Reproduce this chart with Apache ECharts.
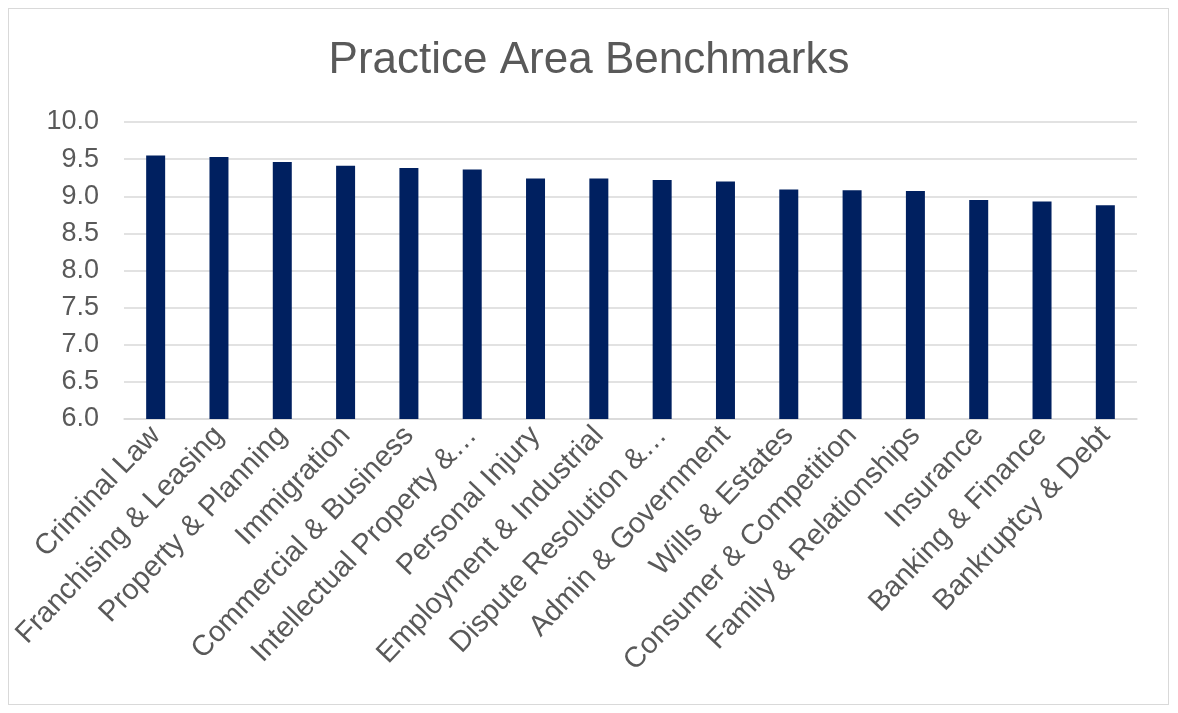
<!DOCTYPE html>
<html>
<head>
<meta charset="utf-8">
<script src="https://cdn.jsdelivr.net/npm/echarts@6/dist/echarts.min.js"></script>
<style>
html,body{margin:0;padding:0;background:#fff;}
#frame{position:absolute;left:8px;top:8px;width:1161px;height:697px;border:1px solid #d9d9d9;box-sizing:border-box;}
#chart{position:absolute;left:0;top:0;width:1178px;height:713px;}
</style>
</head>
<body>
<div id="frame"></div>
<div id="chart"></div>
<script>
const categories = ["Criminal Law","Franchising & Leasing","Property & Planning","Immigration","Commercial & Business","Intellectual Property &…","Personal Injury","Employment & Industrial","Dispute Resolution &…","Admin & Government","Wills & Estates","Consumer & Competition","Family & Relationships","Insurance","Banking & Finance","Bankruptcy & Debt"];
const values = [9.55,9.53,9.46,9.41,9.38,9.36,9.24,9.24,9.22,9.20,9.09,9.08,9.07,8.95,8.93,8.88];
const yTicks = {min:6.0,max:10.0,interval:0.5};
const titleText = "Practice Area Benchmarks";

const chart = echarts.init(document.getElementById('chart'), null, {renderer:'canvas'});
chart.setOption({
  backgroundColor:'transparent',
  animation:false,
  title:{text:titleText,left:'center',top:34,textStyle:{fontFamily:'Liberation Sans, Arial',fontSize:44,fontWeight:'normal',color:'#595959'}},
  grid:{left:124,right:41,top:122,bottom:294,containLabel:false},
  xAxis:{type:'category',data:categories,
    axisLine:{lineStyle:{color:'#d9d9d9',width:1.5}},
    axisTick:{show:false},
    axisLabel:{rotate:46.5,interval:0,margin:12,fontFamily:'Liberation Sans, Arial',fontSize:29,color:'#595959'}},
  yAxis:{type:'value',min:yTicks.min,max:yTicks.max,interval:yTicks.interval,
    axisLine:{show:false},axisTick:{show:false},
    splitLine:{lineStyle:{color:'#d9d9d9',width:1.5}},
    axisLabel:{formatter:v=>v.toFixed(1),margin:25,fontFamily:'Liberation Sans, Arial',fontSize:27,color:'#595959'}},
  series:[{type:'bar',data:values,barWidth:'30%',itemStyle:{color:'#002060'}}]
});
</script>
</body>
</html>
